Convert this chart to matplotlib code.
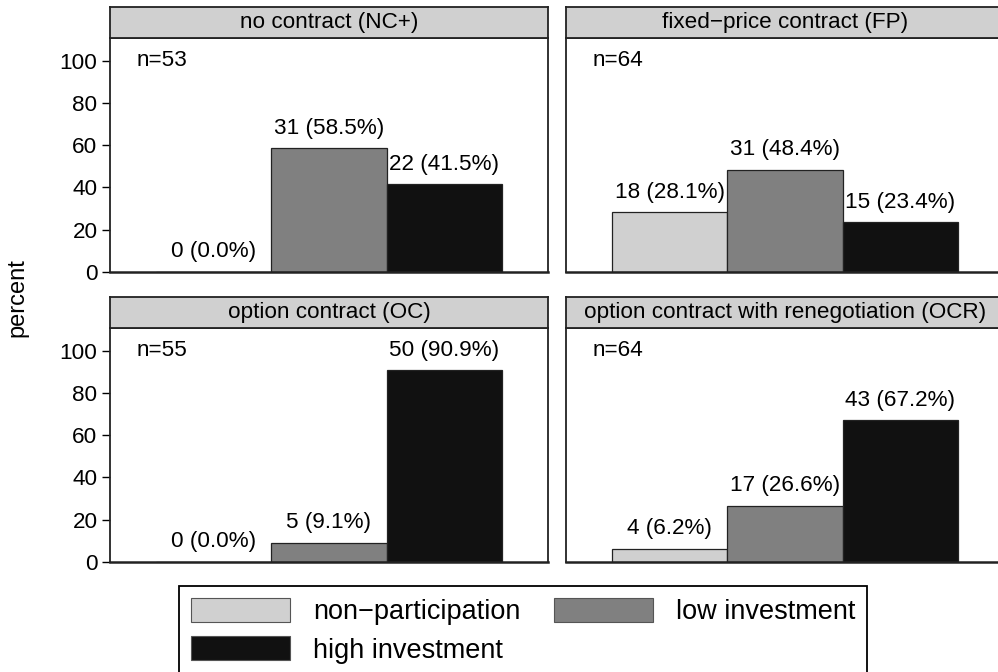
import numpy as np
import matplotlib.pyplot as plt
from matplotlib.patches import Patch

plt.rcParams['font.family'] = ['Liberation Sans', 'DejaVu Sans']

# Data
contracts = ["no contract (NC+)", "fixed\u2212price contract (FP)",
             "option contract (OC)", "option contract with renegotiation (OCR)"]
n_total = [53, 64, 55, 64]
non_part = [0, 18, 0, 4]
low_inv = [31, 31, 5, 17]
high_inv = [22, 15, 50, 43]
categories = ["non\u2212participation", "low investment", "high investment"]
colors = ["#d0d0d0", "#808080", "#111111"]
yticks = [0, 20, 40, 60, 80, 100]

W, H = 998, 672
fig = plt.figure(figsize=(W / 100, H / 100), dpi=100)


def px(x0, x1, y0, y1):
    # pixel box (top-left origin) -> figure fraction rect
    return [x0 / W, 1 - y1 / H, (x1 - x0) / W, (y1 - y0) / H]


cols = [(110, 548), (566, 1004)]
rows = [(7.3, 37.7, 271.7), (296.7, 327.7, 561.7)]
fs = 16.2

for i, name in enumerate(contracts):
    r, c = divmod(i, 2)
    x0, x1 = cols[c]
    s0, s1, b = rows[r]
    ax = fig.add_axes(px(x0, x1, s1, b))
    st = fig.add_axes(px(x0, x1, s0, s1))

    counts = [non_part[i], low_inv[i], high_inv[i]]
    pcts = [100 * v / n_total[i] for v in counts]
    xs = np.arange(3)
    ax.bar(xs, pcts, width=1, color=colors, edgecolor="#222222", linewidth=0.9)
    for x, v, p in zip(xs, counts, pcts):
        ax.annotate(f"{v} ({p:.1f}%)", (x, p), xytext=(0, 14.4),
                    textcoords="offset points", ha="center", va="center",
                    fontsize=fs)
    ax.text(-0.67, 100, f"n={n_total[i]}", ha="left", va="center", fontsize=fs)

    ax.set_xlim(-0.9, 2.9)
    ax.set_ylim(0, 111)
    ax.set_xticks([])
    if c == 0:
        ax.set_yticks(yticks)
        ax.tick_params(axis="y", length=6, width=1, pad=3, labelsize=fs)
    else:
        ax.set_yticks([])
    for sp in ax.spines.values():
        sp.set_color("#222222")
        sp.set_linewidth(1.3)
    ax.spines["bottom"].set_linewidth(1.8)

    st.set_facecolor("#d0d0d0")
    st.set_xticks([])
    st.set_yticks([])
    for sp in st.spines.values():
        sp.set_color("#222222")
        sp.set_linewidth(1.3)
    st.text(0.5, 0.5, name, ha="center", va="center", fontsize=fs,
            transform=st.transAxes)

fig.text(17 / W, 1 - 298 / H, "percent", rotation=90, ha="center",
         va="center", fontsize=17)

handles = [Patch(facecolor=colors[0], edgecolor="#555555", linewidth=0.8),
           Patch(facecolor=colors[2], edgecolor="#555555", linewidth=0.8),
           Patch(facecolor=colors[1], edgecolor="#555555", linewidth=0.8)]
labels = [categories[0], categories[2], categories[1]]
leg = fig.legend(handles, labels, loc="upper left",
                 bbox_to_anchor=(179 / W, 1 - 586 / H), ncol=2,
                 fontsize=19.5, frameon=True, fancybox=False, framealpha=1,
                 edgecolor="black", borderaxespad=0, borderpad=0.44,
                 handlelength=3.65, handleheight=1.0, handletextpad=0.85,
                 labelspacing=0.4, columnspacing=1.25)
leg.get_frame().set_linewidth(1.3)

fig.savefig("out.png", dpi=100)
